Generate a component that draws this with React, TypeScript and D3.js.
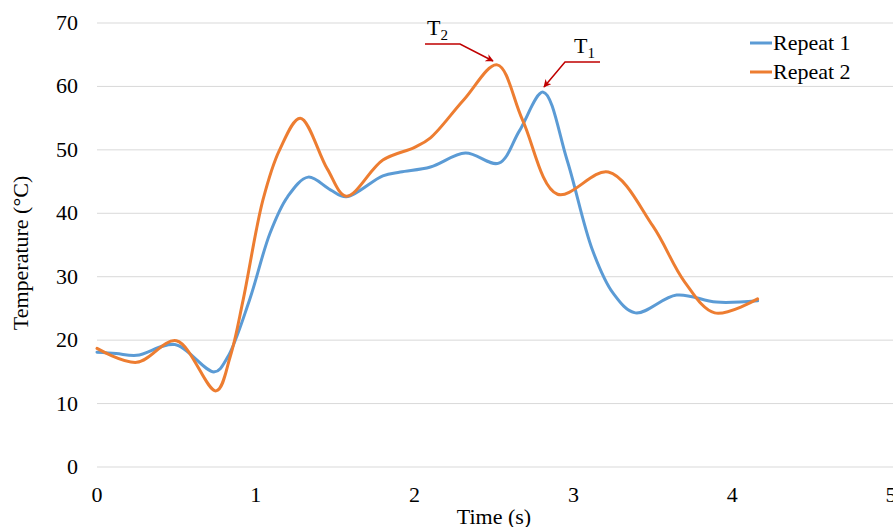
import React from "react";
import * as d3 from "d3";

const xTicks = [0, 1, 2, 3, 4, 5];
const yTicks = [0, 10, 20, 30, 40, 50, 60, 70];

const repeat1Time = [0, 0.12, 0.25, 0.49, 0.74, 0.82, 0.96, 1.09, 1.2, 1.33, 1.47, 1.57, 1.8, 1.91, 2.1, 2.32, 2.53, 2.66, 2.81, 2.96, 3.12, 3.25, 3.39, 3.65, 3.9, 4.16];
const repeat1Temp = [18.1, 17.9, 17.6, 19.3, 15.0, 17.2, 26.3, 36.9, 42.6, 45.7, 43.7, 42.6, 45.9, 46.5, 47.3, 49.5, 47.9, 53.0, 59.1, 48.4, 34.2, 27.4, 24.3, 27.1, 26.0, 26.2];

const repeat2Time = [0, 0.25, 0.5, 0.75, 0.84, 0.92, 1.045, 1.15, 1.28, 1.45, 1.57, 1.8, 2.0, 2.1, 2.31, 2.52, 2.68, 2.9, 3.22, 3.5, 3.7, 3.89, 4.16];
const repeat2Temp = [18.7, 16.5, 19.9, 12.0, 17.5, 26.3, 42.1, 50.0, 55.0, 47.0, 42.7, 48.4, 50.4, 51.9, 57.9, 63.4, 54.7, 43.0, 46.5, 38.0, 29.2, 24.3, 26.5];

const seriesNames = ["Repeat 1", "Repeat 2"];
const seriesColors = ["#5B9BD5", "#ED7D31"];

const W = 893;
const H = 527;
const FONT = "'Liberation Serif', 'Times New Roman', serif";

export default function App() {
  const x = d3.scaleLinear().domain([0, 5]).range([97, 891]);
  const y = d3.scaleLinear().domain([0, 70]).range([467, 23]);

  const line = d3
    .line<[number, number]>()
    .x((d) => x(d[0]))
    .y((d) => y(d[1]))
    .curve(d3.curveCatmullRom.alpha(0.5));

  const s1: [number, number][] = repeat1Time.map((t, i) => [t, repeat1Temp[i]]);
  const s2: [number, number][] = repeat2Time.map((t, i) => [t, repeat2Temp[i]]);

  return (
    <svg
      width={W}
      height={H}
      style={{ position: "absolute", left: 0, top: 0, background: "#fff" }}
      fontFamily={FONT}
    >
      <defs>
        <marker
          id="arr"
          viewBox="0 0 10 10"
          refX="9"
          refY="5"
          markerWidth="8"
          markerHeight="8"
          orient="auto"
          markerUnits="userSpaceOnUse"
        >
          <path d="M0,0 L10,5 L0,10 L3,5 Z" fill="#C00000" />
        </marker>
      </defs>
      {yTicks.map((t) => (
        <g key={t}>
          <line x1={97} x2={893} y1={y(t)} y2={y(t)} stroke="#d9d9d9" strokeWidth={1} />
          <text x={78} y={y(t) + 7} textAnchor="end" fontSize={22} fill="#000">
            {t}
          </text>
        </g>
      ))}
      {xTicks.map((t) => (
        <text key={t} x={x(t)} y={502} textAnchor="middle" fontSize={22} fill="#000">
          {t}
        </text>
      ))}
      <text x={494} y={524} textAnchor="middle" fontSize={22}>
        Time (s)
      </text>
      <text
        transform={`translate(28,253) rotate(-90)`}
        textAnchor="middle"
        fontSize={22}
      >
        Temperature (°C)
      </text>

      <path d={line(s1) || ""} fill="none" stroke={seriesColors[0]} strokeWidth={3} strokeLinejoin="round" strokeLinecap="round" />
      <path d={line(s2) || ""} fill="none" stroke={seriesColors[1]} strokeWidth={3} strokeLinejoin="round" strokeLinecap="round" />

      {/* annotations */}
      <polyline points="425,44 460,44 493,61" fill="none" stroke="#C00000" strokeWidth={1.5} markerEnd="url(#arr)" />
      <text x={427} y={35} fontSize={22}>
        T<tspan fontSize={15} dy={5}>2</tspan>
      </text>
      <polyline points="600,62 565,62 544,87" fill="none" stroke="#C00000" strokeWidth={1.5} markerEnd="url(#arr)" />
      <text x={574} y={53} fontSize={22}>
        T<tspan fontSize={15} dy={5}>1</tspan>
      </text>

      {/* legend */}
      {seriesNames.map((n, i) => (
        <g key={n}>
          <line x1={750} x2={772} y1={43 + i * 29} y2={43 + i * 29} stroke={seriesColors[i]} strokeWidth={3} />
          <text x={773} y={50 + i * 29} fontSize={22}>
            {n}
          </text>
        </g>
      ))}
    </svg>
  );
}
